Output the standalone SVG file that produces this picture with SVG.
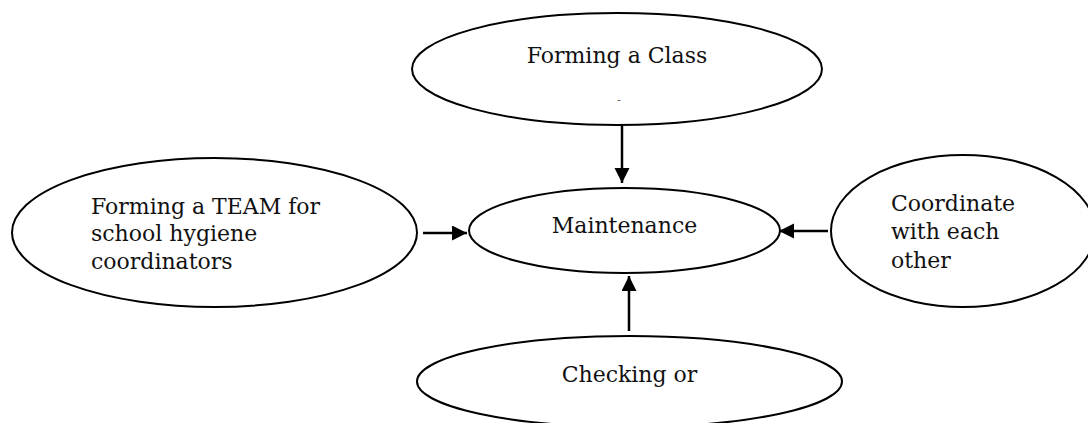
<svg xmlns="http://www.w3.org/2000/svg" width="1088" height="423" viewBox="0 0 1088 423">
<style>
.n{fill:#fff;stroke:#000;stroke-width:2}
.t{font-family:"DejaVu Serif","Liberation Serif",serif;font-size:22px;fill:#111}
.c{text-anchor:middle}
.e{stroke:#000;stroke-width:2.5;fill:none}
</style>
<defs>
<marker id="ah" markerUnits="userSpaceOnUse" markerWidth="16" markerHeight="16" refX="15" refY="7.5" orient="auto">
<path d="M0,0 L15,7.5 L0,15 Z" fill="#000"/>
</marker>
</defs>
<rect width="1088" height="423" fill="#fff"/>
<g id="connectors">
<line class="e" x1="622" y1="125" x2="622" y2="183" marker-end="url(#ah)"/>
<line class="e" x1="423" y1="233" x2="467" y2="233" marker-end="url(#ah)"/>
<line class="e" x1="828" y1="231" x2="779" y2="231" marker-end="url(#ah)"/>
<line class="e" x1="629" y1="331" x2="629" y2="276" marker-end="url(#ah)"/>
</g>
<g id="node-class">
<ellipse class="n" cx="617" cy="69" rx="205" ry="56"/>
<text class="t c" x="617" y="63">Forming a Class</text>
<text x="619" y="103" font-family="DejaVu Sans,sans-serif" font-size="11" fill="#555" text-anchor="middle">-</text>
</g>
<g id="node-team">
<ellipse class="n" cx="214.5" cy="232.5" rx="202.5" ry="74.5"/>
<text class="t" x="91" y="214">Forming a TEAM for</text>
<text class="t" x="91" y="241">school hygiene</text>
<text class="t" x="91" y="269">coordinators</text>
</g>
<g id="node-maintenance">
<ellipse class="n" cx="624.5" cy="230.5" rx="155.5" ry="42.5"/>
<text class="t c" x="624.5" y="233">Maintenance</text>
</g>
<g id="node-coordinate">
<ellipse class="n" cx="963" cy="231" rx="132" ry="76"/>
<text class="t" x="891" y="211">Coordinate</text>
<text class="t" x="891" y="239">with each</text>
<text class="t" x="891" y="268">other</text>
</g>
<g id="node-checking">
<ellipse class="n" cx="629.5" cy="381.5" rx="212.5" ry="45.5"/>
<text class="t c" x="629.5" y="382">Checking or</text>
</g>
</svg>
